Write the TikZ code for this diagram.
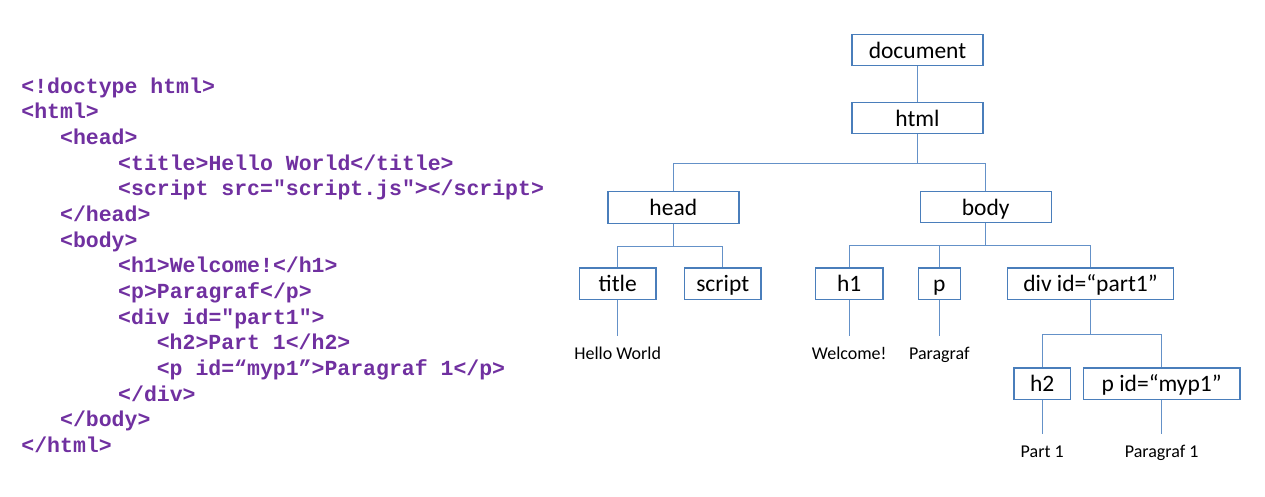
\documentclass[tikz,border=0pt]{standalone}
\usepackage{fontspec}
\setmainfont{Carlito}
\newfontfamily\codefont{Liberation Mono}[Ligatures=NoCommon]
\definecolor{codepurple}{RGB}{112,48,160}
\definecolor{boxblue}{RGB}{74,126,187}
\definecolor{lineblue}{RGB}{100,145,200}
\begin{document}
\begin{tikzpicture}[x=1pt,y=-1pt,
  codeline/.style={anchor=base west,inner sep=0pt,font=\codefont\bfseries\fontsize{21.5}{24}\selectfont,text=codepurple},
  treebox/.style={draw=boxblue,line width=1.4pt,fill=white,inner sep=0pt,minimum height=31.5pt,
    font=\fontsize{23.5}{28}\selectfont,text height=19pt,text depth=2.8pt},
  leaf/.style={anchor=base,inner xsep=0pt,inner ysep=10pt,text height=13pt,text depth=4pt,
    font=\fontsize{18}{22}\selectfont},
  conn/.style={draw=lineblue,line width=1.2pt}]
\useasboundingbox (0,0) rectangle (1265,496);
% code listing
\node[codeline] (c1)  at (21.2,93.3)  {<!doctype html>};
\node[codeline] (c2)  at (21.2,118.95) {<html>};
\node[codeline] (c3)  at (59.9,144.6) {<head>};
\node[codeline] (c4)  at (118,170.25) {<title>Hello World</title>};
\node[codeline] (c5)  at (118,195.9)  {<script src="script.js"></script>};
\node[codeline] (c6)  at (59.9,221.55) {</head>};
\node[codeline] (c7)  at (59.9,247.2) {<body>};
\node[codeline] (c8)  at (118,272.85) {<h1>Welcome!</h1>};
\node[codeline] (c9)  at (118,298.5)  {<p>Paragraf</p>};
\node[codeline] (c10) at (118,324.15) {<div id="part1">};
\node[codeline] (c11) at (156.6,349.8) {<h2>Part 1</h2>};
\node[codeline] (c12) at (156.6,375.45) {<p id=“myp1”>Paragraf 1</p>};
\node[codeline] (c13) at (118,401.1)  {</div>};
\node[codeline] (c14) at (59.9,426.75) {</body>};
\node[codeline] (c15) at (21.2,452.4) {</html>};
% tree
\node[treebox,minimum width=131pt] (document) at (917.5,50) {document};
\node[treebox,minimum width=131pt] (html) at (917.5,118) {html};
\node[treebox,minimum width=131pt] (head) at (673.3,207.5) {head};
\node[treebox,minimum width=131pt] (body) at (985.7,207) {body};
\node[treebox,minimum width=76.7pt] (title) at (617.7,283.7) {title};
\node[treebox,minimum width=76.7pt] (script) at (722.7,283.7) {script};
\node[treebox,minimum width=67.4pt] (h1) at (849.2,283.7) {h1};
\node[treebox,minimum width=42pt] (p) at (939.3,283.7) {p};
\node[treebox,minimum width=166.4pt] (div) at (1090.5,283.8) {div id=“part1”};
\node[treebox,minimum width=56.3pt] (h2) at (1042.2,383.7) {h2};
\node[treebox,minimum width=156.7pt] (pmyp) at (1161.7,383.7) {p id=“myp1”};
\node[leaf] (hw) at (617.7,359) {Hello World};
\node[leaf] (wel) at (849.2,359) {Welcome!};
\node[leaf] (par) at (939.3,359) {Paragraf};
\node[leaf] (part1) at (1042.2,457) {Part 1};
\node[leaf] (par1) at (1161.7,457) {Paragraf 1};
% connectors
\draw[conn] (document.south) -- (html.north);
\draw[conn] (html.south) -- ++(0,28.7) -| (head.north);
\draw[conn] (html.south) -- ++(0,28.7) -| (body.north);
\draw[conn] (head.south) -- ++(0,22.4) -| (title.north);
\draw[conn] (head.south) -- ++(0,22.4) -| (script.north);
\draw[conn] (body.south) -- ++(0,21.7) -| (h1.north);
\draw[conn] (body.south) -- ++(0,21.7) -| (p.north);
\draw[conn] (body.south) -- ++(0,21.7) -| (div.north);
\draw[conn] (div.south) -- ++(0,34.3) -| (h2.north);
\draw[conn] (div.south) -- ++(0,34.3) -| (pmyp.north);
\draw[conn] (title.south) -- (hw.north);
\draw[conn] (h1.south) -- (wel.north);
\draw[conn] (p.south) -- (par.north);
\draw[conn] (h2.south) -- (part1.north);
\draw[conn] (pmyp.south) -- (par1.north);
\end{tikzpicture}
\end{document}
